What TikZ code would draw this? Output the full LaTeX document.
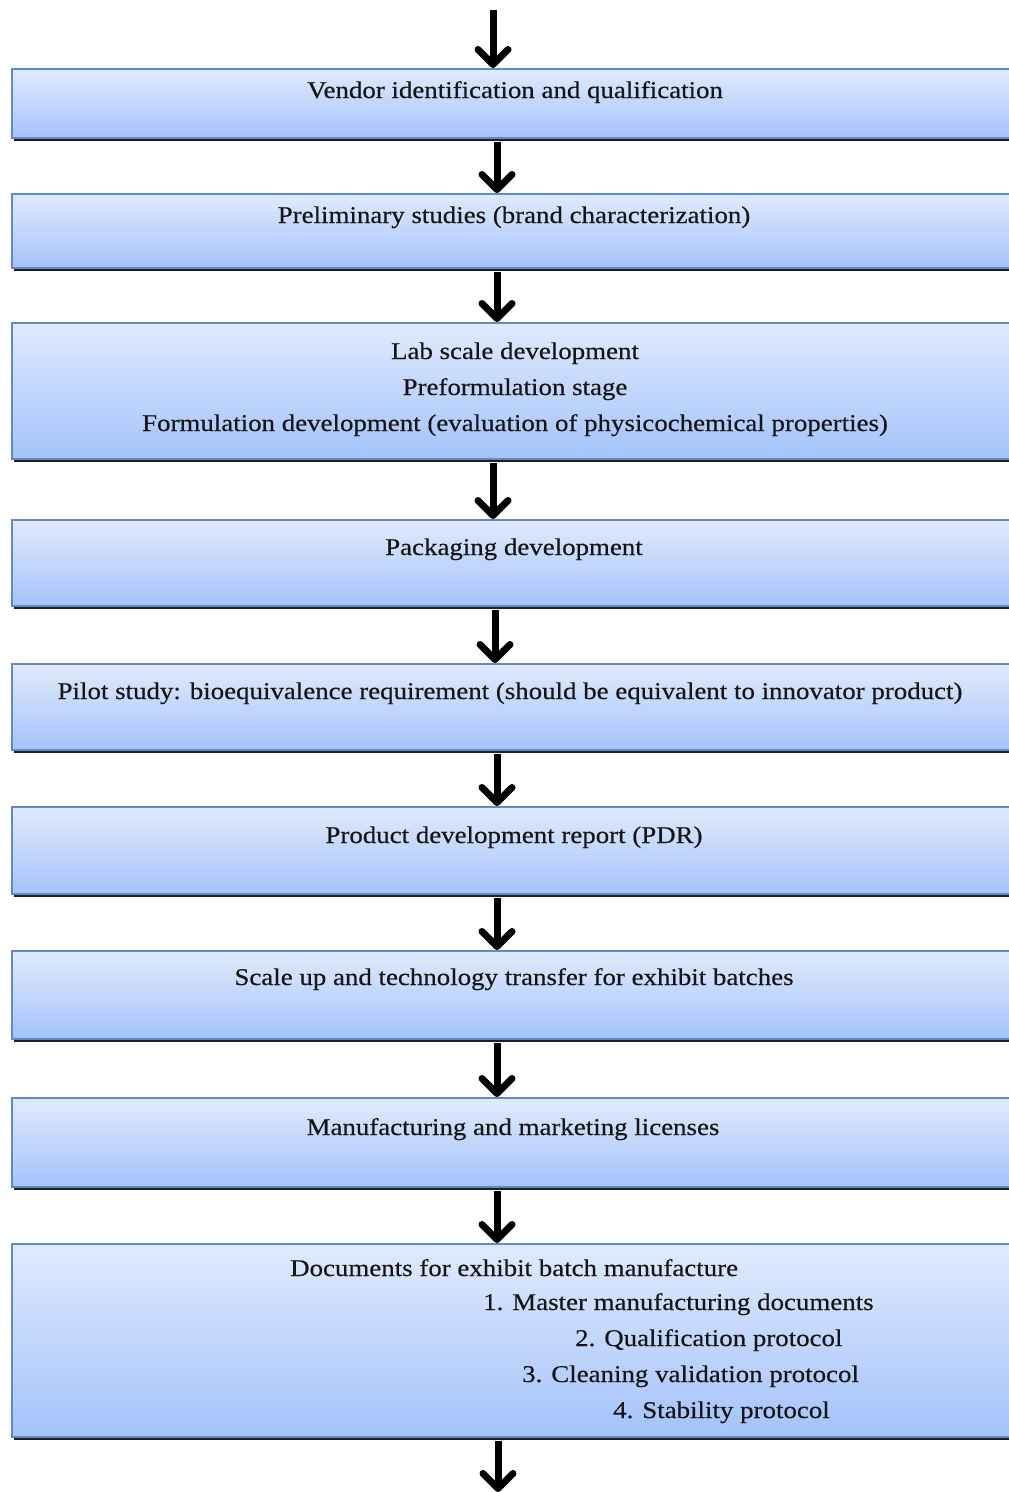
\documentclass[tikz,border=0pt]{standalone}
\usepackage{fontspec}
\setmainfont[FakeStretch=1.12,FakeBold=0.4]{Liberation Serif}
\usetikzlibrary{arrows.meta,shadows}

\definecolor{boxtop}{HTML}{E0EAFD}
\definecolor{boxbot}{HTML}{A3C3FB}
\definecolor{boxline}{HTML}{5F8AC6}
\definecolor{txt}{HTML}{151515}

\tikzset{
  stagebox/.style={
    draw=boxline, line width=1.8pt, rectangle, anchor=north west,
    minimum width=1012pt, inner sep=0pt,
    top color=boxtop, bottom color=boxbot,
    general shadow={shadow xshift=2pt, shadow yshift=-3.2pt, fill=black!88}
  },
  steptext/.style={font=\fontsize{24}{36}\selectfont, text=txt, inner sep=0pt, anchor=base},
  leftline/.style={steptext, anchor=base west},
  flow/.style={line width=7pt, draw=black,
    -{Straight Barb[length=15pt,width=30pt,line cap=round,line join=round]}}
}

\begin{document}
\begin{tikzpicture}[x=1pt, y=-1pt]
\useasboundingbox[fill=white] (0,0) rectangle (1009,1492);

% process stages
\node[stagebox, minimum height=69pt]  (b1) at (11,68)   {};
\node[stagebox, minimum height=74pt]  (b2) at (11,193)  {};
\node[stagebox, minimum height=136pt] (b3) at (11,322)  {};
\node[stagebox, minimum height=86pt]  (b4) at (11,519)  {};
\node[stagebox, minimum height=86pt]  (b5) at (11,663)  {};
\node[stagebox, minimum height=87pt]  (b6) at (11,806)  {};
\node[stagebox, minimum height=88pt]  (b7) at (11,950)  {};
\node[stagebox, minimum height=89pt]  (b8) at (11,1097) {};
\node[stagebox, minimum height=193pt] (b9) at (11,1243) {};

% stage labels
\node[steptext] (t1) at (515,98) {Vendor identification and qualification};
\node[steptext] (t2) at (514,223) {Preliminary studies (brand characterization)};
\node[steptext] (t3a) at (515,359) {Lab scale development};
\node[steptext] (t3b) at (515,395) {Preformulation stage};
\node[steptext] (t3c) at (515,431) {Formulation development (evaluation of physicochemical properties)};
\node[steptext] (t4) at (514,555) {Packaging development};
\node[steptext] (t5) at (510,699) {Pilot study: bioequivalence requirement (should be equivalent to innovator product)};
\node[steptext] (t6) at (514,843) {Product development report (PDR)};
\node[steptext] (t7) at (514,985) {Scale up and technology transfer for exhibit batches};
\node[steptext] (t8) at (513,1135) {Manufacturing and marketing licenses};
\node[leftline] (t9a) at (290,1276) {Documents for exhibit batch manufacture};
\node[leftline] (t9b) at (483,1310) {1. Master manufacturing documents};
\node[leftline] (t9c) at (575,1346) {2. Qualification protocol};
\node[leftline] (t9d) at (522,1382) {3. Cleaning validation protocol};
\node[leftline] (t9e) at (613,1418) {4. Stability protocol};

% arrow columns and free ends
\coordinate (cA) at (493,0);
\coordinate (cB) at (497,0);
\coordinate (cC) at (495,0);
\coordinate (cD) at (498,0);
\coordinate (start) at (493,10);
\coordinate (finish) at (498,1492);

% connectors
\draw[flow] (start) -- (b1.north -| cA);
\draw[flow] (b1.south -| cB) ++(0,3) -- (b2.north -| cB);
\draw[flow] (b2.south -| cB) ++(0,3) -- (b3.north -| cB);
\draw[flow] (b3.south -| cA) ++(0,3) -- (b4.north -| cA);
\draw[flow] (b4.south -| cC) ++(0,3) -- (b5.north -| cC);
\draw[flow] (b5.south -| cB) ++(0,3) -- (b6.north -| cB);
\draw[flow] (b6.south -| cB) ++(0,3) -- (b7.north -| cB);
\draw[flow] (b7.south -| cB) ++(0,3) -- (b8.north -| cB);
\draw[flow] (b8.south -| cB) ++(0,3) -- (b9.north -| cB);
\draw[flow] (b9.south -| cD) ++(0,3) -- (finish);
\end{tikzpicture}
\end{document}
